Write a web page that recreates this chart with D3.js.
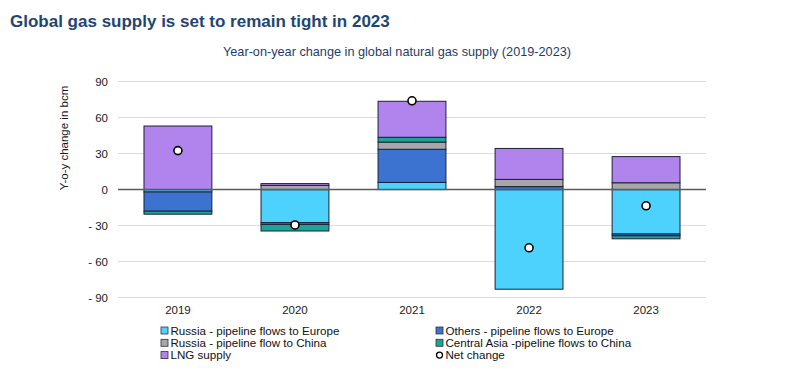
<!DOCTYPE html>
<html>
<head>
<meta charset="utf-8">
<script src="https://cdn.jsdelivr.net/npm/d3@7"></script>
<style>
	body { margin: 0; background: #fff; font-family: "Liberation Sans", Arial, sans-serif; }
	svg text { font-family: "Liberation Sans", Arial, sans-serif; }
</style>
</head>
<body>
<svg id="chart"></svg>
<script>
// chart data (bcm, year-on-year change)
const years = ['2019', '2020', '2021', '2022', '2023'];
const russiaEurope = [-2, -27.5, 6, -83, -37];
const othersEurope = [-16, -1.5, 27.6, 2.5, -1.5];
const russiaChina = [0, 3.5, 6, 6, 5.7];
const centralAsiaChina = [-2.5, -5.5, 4, 0, -2.5];
const lngSupply = [53, 1.5, 30, 25.8, 21.8];
const netChange = [32.5, -29.5, 74, -48.5, -13.5];
const yTicks = [90, 60, 30, 0, -30, -60, -90];

const seriesKeys = ['russiaEurope', 'othersEurope', 'russiaChina', 'centralAsiaChina', 'lngSupply'];
const seriesLabels = {
	russiaEurope: 'Russia - pipeline flows to Europe',
	othersEurope: 'Others - pipeline flows to Europe',
	russiaChina: 'Russia - pipeline flow to China',
	centralAsiaChina: 'Central Asia -pipeline flows to China',
	lngSupply: 'LNG supply'
};
const colors = {
	russiaEurope: '#4dd2fd',
	othersEurope: '#3d73d0',
	russiaChina: '#a7a7a9',
	centralAsiaChina: '#1aa597',
	lngSupply: '#b183ec'
};

const width = 800, height = 372;
const svg = d3.select('#chart').attr('width', width).attr('height', height);

// rows for d3.stack
const rows = years.map((y, i) => ({
	year: y,
	russiaEurope: russiaEurope[i],
	othersEurope: othersEurope[i],
	russiaChina: russiaChina[i],
	centralAsiaChina: centralAsiaChina[i],
	lngSupply: lngSupply[i],
	net: netChange[i]
}));

const xScale = d3.scaleBand()
	.domain(years)
	.range([118, 706])
	.paddingInner(0.42)
	.paddingOuter(0.222);

const yScale = d3.scaleLinear()
	.domain([-90, 90])
	.range([297.6, 81.6]);

// titles
svg.append('text')
	.attr('x', 10)
	.attr('y', 27)
	.style('font-size', '17px')
	.style('font-weight', 'bold')
	.attr('fill', '#1f4672')
	.text('Global gas supply is set to remain tight in 2023');

svg.append('text')
	.attr('x', 397)
	.attr('y', 56)
	.attr('text-anchor', 'middle')
	.style('font-size', '12.7px')
	.attr('fill', '#1f3d6b')
	.text('Year-on-year change in global natural gas supply (2019-2023)');

// gridlines
svg.append('g')
	.selectAll('line')
	.data(yTicks.filter(d => d !== 0))
	.join('line')
	.attr('x1', 118)
	.attr('x2', 706)
	.attr('y1', d => yScale(d))
	.attr('y2', d => yScale(d))
	.attr('stroke', '#d9d9d9')
	.attr('stroke-width', 1);

// y axis labels
const yAxis = d3.axisLeft(yScale)
	.tickValues(yTicks)
	.tickSize(0)
	.tickPadding(0)
	.tickFormat(d => d < 0 ? '- ' + Math.abs(d) : d);

const yAxisGroup = svg.append('g')
	.attr('transform', 'translate(108,0)')
	.call(yAxis);
yAxisGroup.select('.domain').remove();
yAxisGroup.selectAll('text')
	.style('font-size', '11.5px')
	.attr('fill', '#1a1a1a');

svg.append('text')
	.attr('transform', 'translate(68,138) rotate(-90)')
	.attr('text-anchor', 'middle')
	.style('font-size', '11.5px')
	.attr('fill', '#1a1a1a')
	.text('Y-o-y change in bcm');

// stacked bars
const stack = d3.stack()
	.keys(seriesKeys)
	.offset(d3.stackOffsetDiverging);
const stacked = stack(rows);

svg.append('g')
	.selectAll('g')
	.data(stacked)
	.join('g')
	.attr('fill', d => colors[d.key])
	.selectAll('rect')
	.data(d => d.filter(s => s[1] - s[0] !== 0))
	.join('rect')
	.attr('x', d => xScale(d.data.year))
	.attr('y', d => yScale(Math.max(d[0], d[1])))
	.attr('width', xScale.bandwidth())
	.attr('height', d => Math.abs(yScale(d[0]) - yScale(d[1])))
	.attr('stroke', '#1c2236')
	.attr('stroke-width', 1);

// zero line
svg.append('line')
	.attr('x1', 118)
	.attr('x2', 706)
	.attr('y1', yScale(0))
	.attr('y2', yScale(0))
	.attr('stroke', '#5a5a5a')
	.attr('stroke-width', 1.5);

// x labels
const xAxis = d3.axisBottom(xScale).tickSize(0).tickPadding(0);
const xAxisGroup = svg.append('g')
	.attr('transform', 'translate(0,306)')
	.call(xAxis);
xAxisGroup.select('.domain').remove();
xAxisGroup.selectAll('text')
	.style('font-size', '11.5px')
	.attr('fill', '#1a1a1a');

// net change markers
svg.append('g')
	.selectAll('circle')
	.data(rows)
	.join('circle')
	.attr('cx', d => xScale(d.year) + xScale.bandwidth() / 2)
	.attr('cy', d => yScale(d.net))
	.attr('r', 4)
	.attr('fill', '#fff')
	.attr('stroke', '#000')
	.attr('stroke-width', 1.6);

// legend
const legendItems = [
	{ key: 'russiaEurope', col: 0, row: 0 },
	{ key: 'othersEurope', col: 1, row: 0 },
	{ key: 'russiaChina', col: 0, row: 1 },
	{ key: 'centralAsiaChina', col: 1, row: 1 },
	{ key: 'lngSupply', col: 0, row: 2 },
	{ key: 'net', col: 1, row: 2 }
];
const legend = svg.append('g')
	.selectAll('g')
	.data(legendItems)
	.join('g')
	.attr('transform', d => `translate(${d.col === 0 ? 161 : 436},${330.5 + d.row * 12.3})`);

legend.filter(d => d.key !== 'net')
	.append('rect')
	.attr('x', 0)
	.attr('y', -3.5)
	.attr('width', 7)
	.attr('height', 7)
	.attr('fill', d => colors[d.key])
	.attr('stroke', '#333')
	.attr('stroke-width', 0.8);

legend.filter(d => d.key === 'net')
	.append('circle')
	.attr('cx', 3.5)
	.attr('cy', 0)
	.attr('r', 3)
	.attr('fill', '#fff')
	.attr('stroke', '#000')
	.attr('stroke-width', 1.3);

legend.append('text')
	.attr('x', 9.5)
	.attr('y', 4)
	.style('font-size', '11.6px')
	.attr('fill', '#111')
	.text(d => d.key === 'net' ? 'Net change' : seriesLabels[d.key]);
</script>
</body>
</html>
